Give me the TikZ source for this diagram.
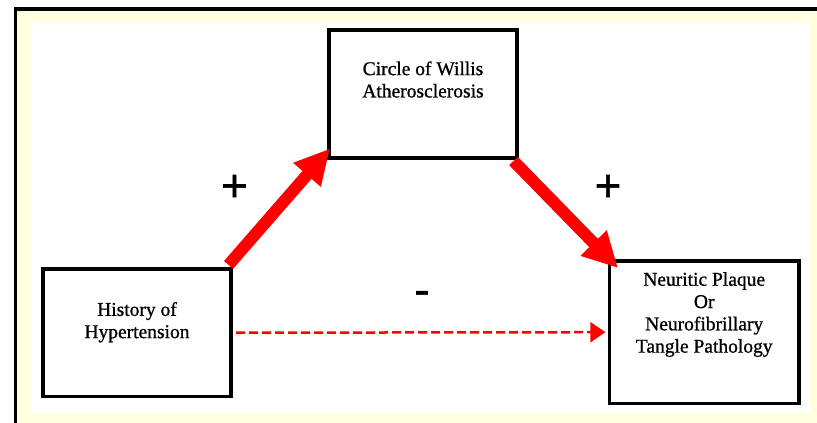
\documentclass[tikz,border=0pt]{standalone}
\usepackage{fontspec}
\setmainfont{Liberation Serif}
\newfontfamily\boxfont[FakeBold=0.9]{Liberation Serif}
\newfontfamily\signfont[FakeBold=1.5]{Liberation Sans}
\usetikzlibrary{arrows.meta}
\definecolor{paleyellow}{RGB}{255,255,224}
\begin{document}
\begin{tikzpicture}[x=1pt,y=-1pt,
  box/.style={draw=black, line width=3.5pt, fill=white, rectangle, inner sep=0pt, outer sep=0pt},
  lbl/.style={align=center, inner sep=0pt, font=\boxfont\fontsize{19.5}{22.3}\selectfont},
  sign/.style={inner sep=0pt, font=\signfont\fontsize{45}{50}\selectfont},
  bigarrow/.style={draw=red, line width=12pt, -{Triangle[length=35pt,width=34pt]}},
  dasharrow/.style={draw=red, line width=2.5pt, dash pattern=on 9pt off 4pt,
    -{Triangle[length=15pt,width=20pt]}, shorten <=5pt, shorten >=4pt}]
\useasboundingbox (0,0) rectangle (817,423);
\fill[white] (0,0) rectangle (817,423);
\fill[black] (14,7) rectangle (817,423);
\fill[paleyellow] (17,11) rectangle (817,423);
\fill[white] (31,22) rectangle (810,413);

\node[box, minimum width=188pt, minimum height=127.5pt] (hist) at (137,332.7) {};
\node[box, minimum width=188pt, minimum height=128pt] (cw) at (423,94) {};
\node[box, minimum width=189.7pt, minimum height=142.3pt] (np) at (704.2,332.2) {};

\node[lbl] (histt) at (137,322.2) {History of\\Hypertension};
\node[lbl] (cwt) at (423,79.5) {Circle of Willis\\Atherosclerosis};
\node[lbl] (npt) at (704.2,314.5) {Neuritic Plaque\\Or\\Neurofibrillary\\Tangle Pathology};

\draw[bigarrow] ([shift={(-2.5,-4)}]hist.north east) -- ([shift={(1,-9.5)}]cw.south west);
\draw[bigarrow] ([shift={(-3.5,3)}]cw.south east) -- ([shift={(8.7,7)}]np.north west);
\draw[dasharrow] (hist.east) -- (np.west);

\node[sign] (p1) at (234.5,188) {+};
\node[sign] (p2) at (608,188) {+};
\node[sign] (m1) at (422,298) {-};
\end{tikzpicture}
\end{document}
